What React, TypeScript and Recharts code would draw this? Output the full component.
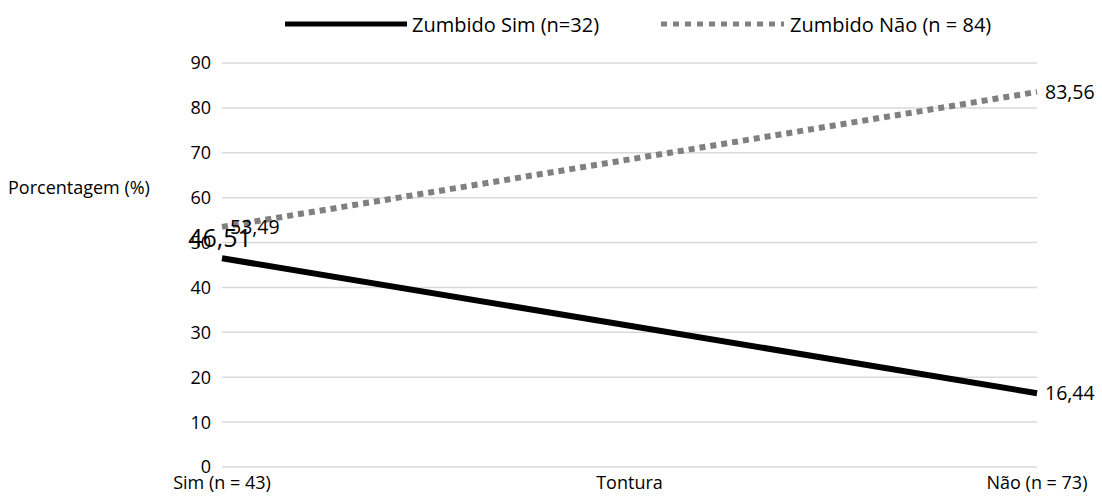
import React from "react";
import { LineChart, Line, XAxis, YAxis, CartesianGrid, LabelList } from "recharts";

const categories = ["Sim (n = 43)", "Não (n = 73)"];
const zumbidoSim = [46.51, 16.44];
const zumbidoNao = [53.49, 83.56];
const yTicks = [0, 10, 20, 30, 40, 50, 60, 70, 80, 90];
const seriesNames = ["Zumbido Sim (n=32)", "Zumbido Não (n = 84)"];

const FONT = "'Open Sans', sans-serif";
const GRAY = "#808080";

const data = categories.map((c, i) => ({
  cat: c,
  sim: zumbidoSim[i],
  nao: zumbidoNao[i],
}));

const fmt = (v: number) => v.toFixed(2).replace(".", ",");

function SimLabel(props: any) {
  const { x, y, value, index } = props;
  if (index === 0) {
    return (
      <text x={x - 2} y={y - 11} textAnchor="middle" fontSize={25} fontFamily={FONT} fill="#000">
        {fmt(value)}
      </text>
    );
  }
  return (
    <text x={x + 8} y={y} dy="0.35em" textAnchor="start" fontSize={19.5} fontFamily={FONT} fill="#000">
      {fmt(value)}
    </text>
  );
}

function NaoLabel(props: any) {
  const { x, y, value } = props;
  return (
    <text x={x + 8} y={y} dy="0.35em" textAnchor="start" fontSize={19.5} fontFamily={FONT} fill="#000">
      {fmt(value)}
    </text>
  );
}

export default function App() {
  return (
    <div style={{ position: "absolute", left: 0, top: 0, width: 1102, height: 497, background: "#fff" }}>
      <div
        style={{
          position: "absolute",
          top: 12,
          left: 285,
          height: 24,
          display: "flex",
          alignItems: "center",
          fontFamily: FONT,
          fontSize: 20,
          color: "#000",
          whiteSpace: "nowrap",
        }}
      >
        <svg width={122} height={8}>
          <line x1={0} y1={4} x2={122} y2={4} stroke="#000" strokeWidth={5} />
        </svg>
        <span style={{ marginLeft: 5 }}>{seriesNames[0]}</span>
        <svg width={123} height={8} style={{ marginLeft: 62 }}>
          <line x1={0} y1={4} x2={123} y2={4} stroke={GRAY} strokeWidth={5} strokeDasharray="6 6" />
        </svg>
        <span style={{ marginLeft: 6 }}>{seriesNames[1]}</span>
      </div>
      <LineChart width={1102} height={497} data={data} margin={{ top: 63, right: 65, bottom: 0, left: 0 }}>
        <CartesianGrid vertical={false} stroke="#d9d9d9" strokeWidth={1.5} />
        <XAxis
          dataKey="cat"
          type="category"
          height={30}
          axisLine={false}
          tickLine={false}
          tickSize={6}
          tickMargin={3}
          interval={0}
          tick={{ fill: "#000", fontSize: 18, fontFamily: FONT }}
          label={{
            content: (p: any) => {
              const vb = p.viewBox;
              return (
                <text x={vb.x + vb.width / 2} y={vb.y + 22} textAnchor="middle" fontSize={18} fontFamily={FONT} fill="#000">
                  Tontura
                </text>
              );
            },
          }}
        />
        <YAxis
          width={222}
          domain={[0, 90]}
          ticks={yTicks}
          axisLine={false}
          tickLine={false}
          tickSize={6}
          tickMargin={5}
          tick={{ fill: "#000", fontSize: 18, fontFamily: FONT }}
          label={{
            content: (p: any) => {
              const vb = p.viewBox;
              return (
                <text x={vb.x + 8} y={vb.y + 131} textAnchor="start" fontSize={18} fontFamily={FONT} fill="#000">
                  Porcentagem (%)
                </text>
              );
            },
          }}
        />
        <Line
          type="linear"
          dataKey="nao"
          stroke={GRAY}
          strokeWidth={6}
          strokeDasharray="6 5"
          dot={false}
          isAnimationActive={false}
        >
          <LabelList dataKey="nao" content={NaoLabel} />
        </Line>
        <Line type="linear" dataKey="sim" stroke="#000" strokeWidth={6} dot={false} isAnimationActive={false}>
          <LabelList dataKey="sim" content={SimLabel} />
        </Line>
      </LineChart>
    </div>
  );
}
